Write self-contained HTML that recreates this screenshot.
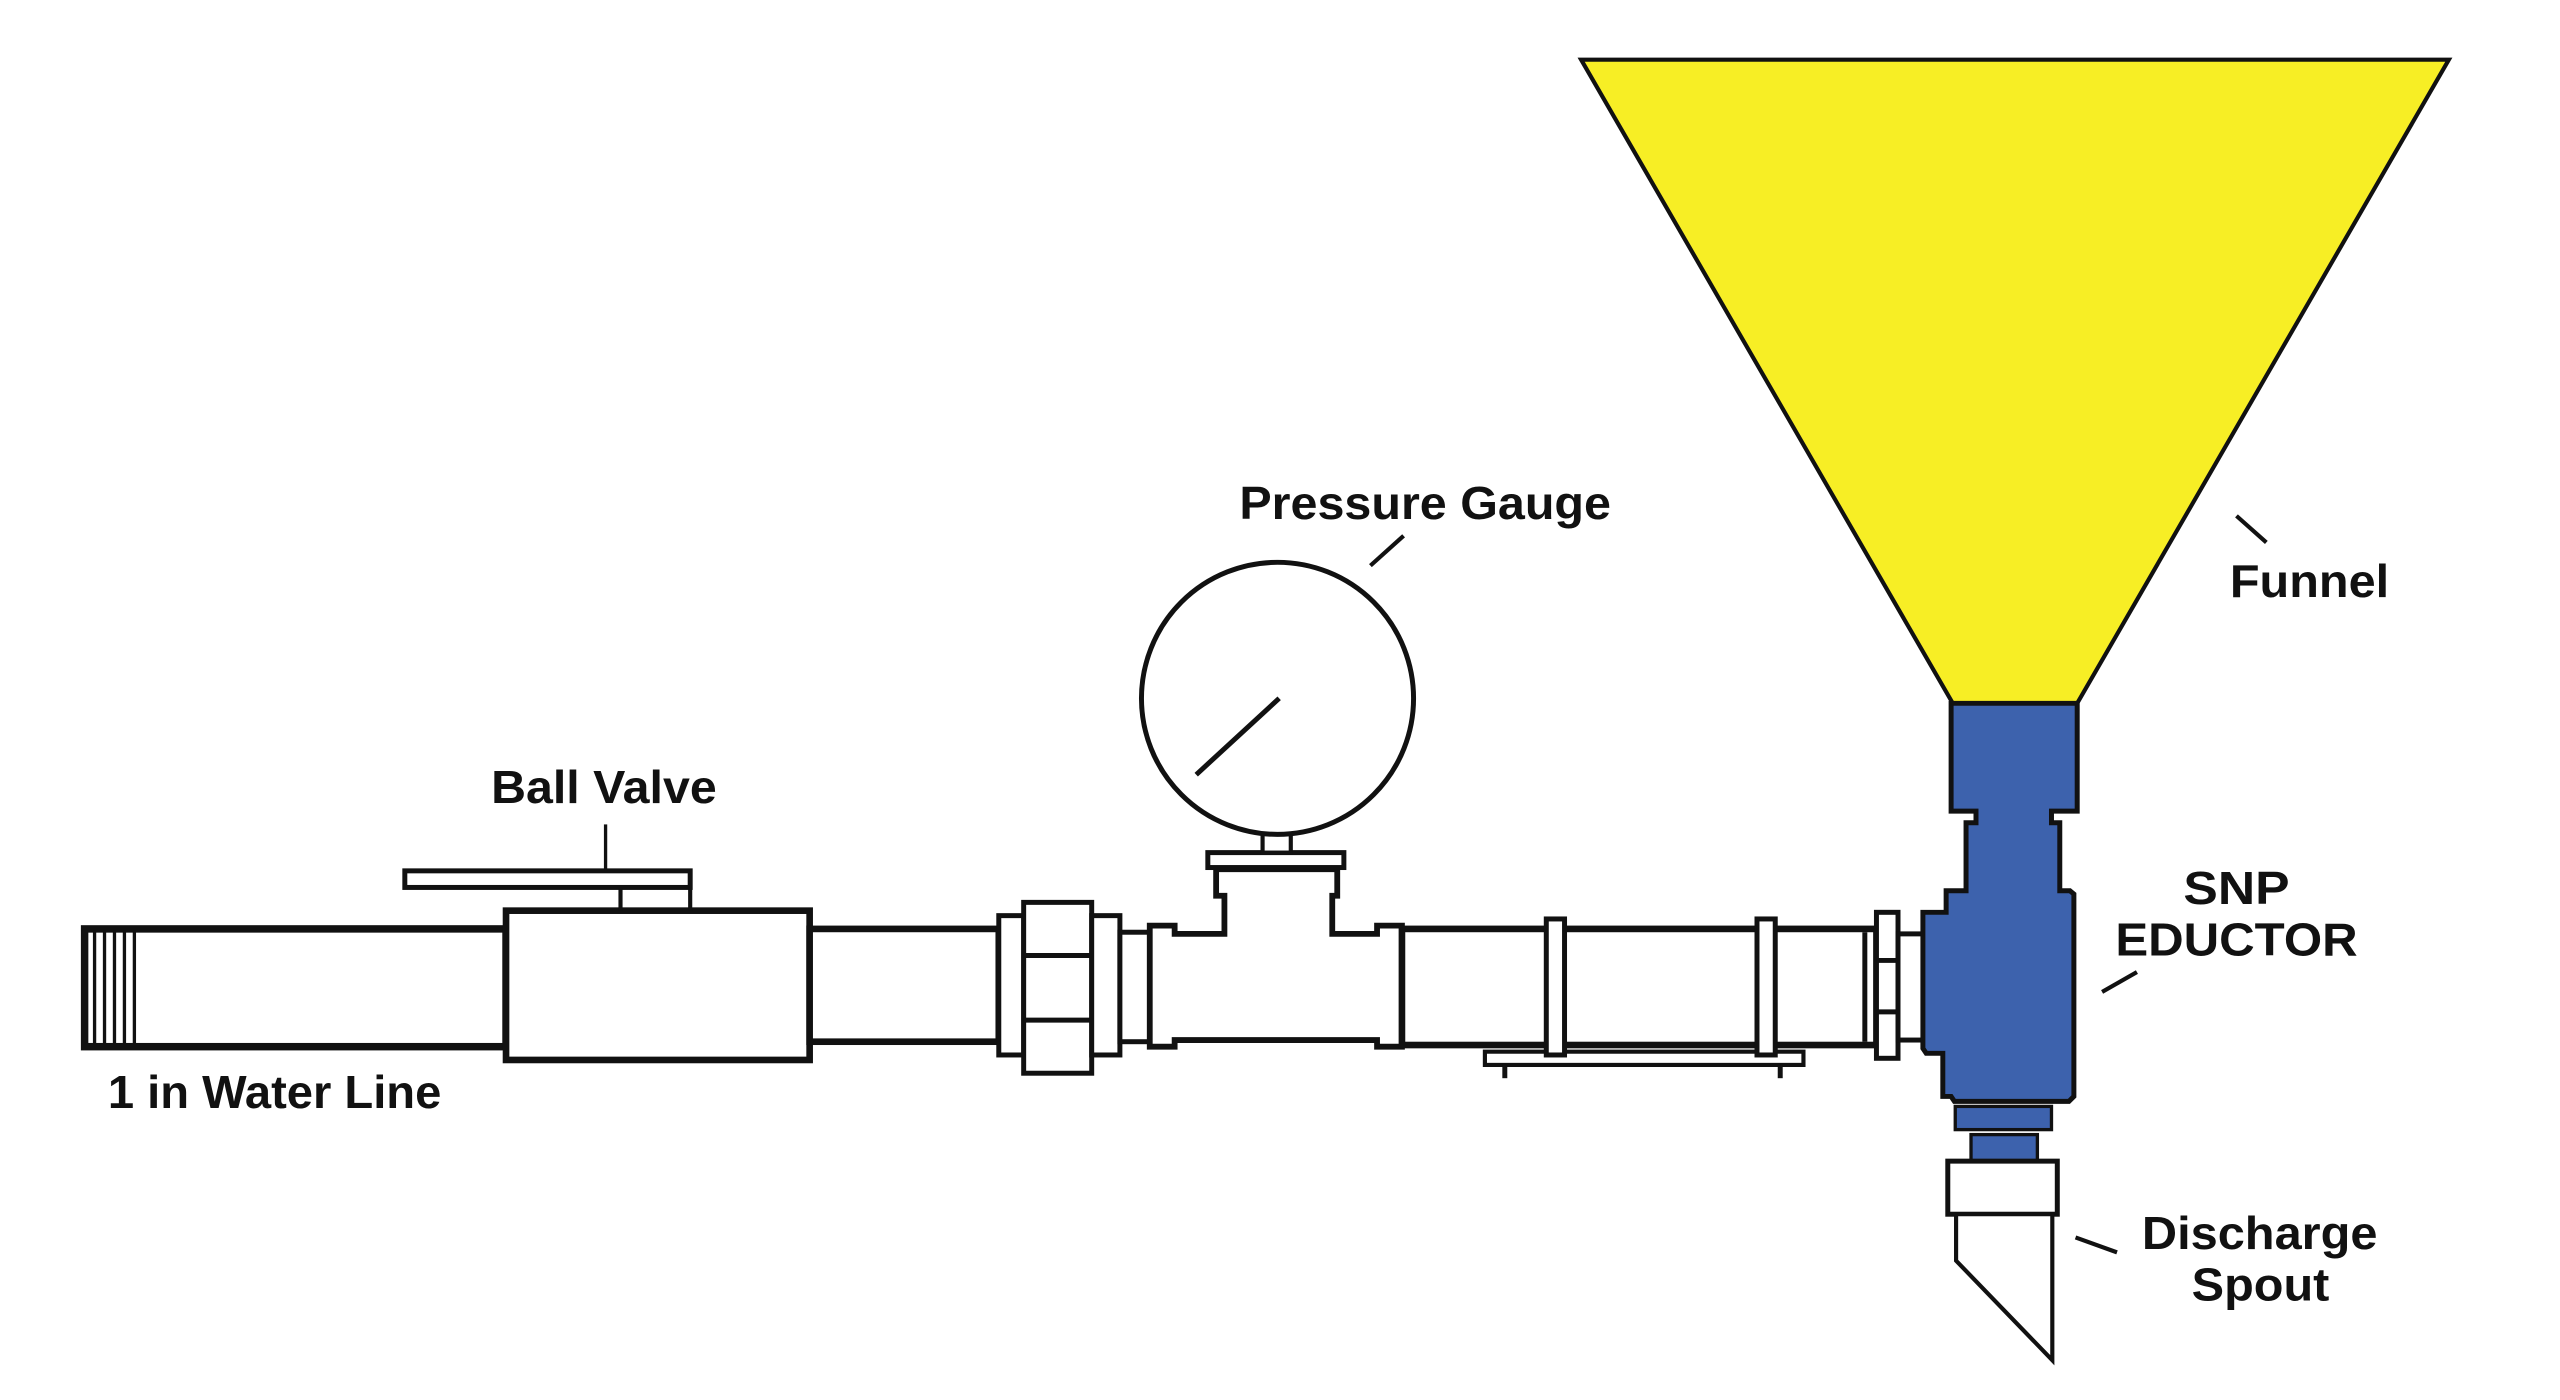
<!DOCTYPE html>
<html><head><meta charset="utf-8"><style>
html,body{margin:0;padding:0;background:#fff;}
svg{display:block;}
text{font-family:"Liberation Sans",sans-serif;font-weight:bold;fill:#111;}
</style></head><body>
<svg width="2560" height="1400" viewBox="0 0 1543 844" preserveAspectRatio="none" xmlns="http://www.w3.org/2000/svg">
<rect width="1543" height="844" fill="#fff"/>
<!-- Funnel -->
<polygon points="953,36 1476,36 1252,424 1177,424" fill="#F7EE25" stroke="#111" stroke-width="2.5" stroke-linejoin="miter"/>
<line x1="1348" y1="311" x2="1366" y2="327" stroke="#111" stroke-width="2.5"/>

<!-- Water line -->
<g fill="none" stroke="#111">
<rect x="51" y="560" width="254" height="71" fill="#fff" stroke-width="4.5"/>
<line x1="57" y1="562" x2="57" y2="629" stroke-width="2"/>
<line x1="63" y1="562" x2="63" y2="629" stroke-width="2"/>
<line x1="69" y1="562" x2="69" y2="629" stroke-width="2"/>
<line x1="75" y1="562" x2="75" y2="629" stroke-width="2"/>
<line x1="81" y1="562" x2="81" y2="629" stroke-width="2"/>
<!-- ball valve -->
<rect x="305" y="549" width="183" height="90" fill="#fff" stroke-width="4"/>
<rect x="244" y="525" width="172" height="10" fill="#fff" stroke-width="3"/>
<line x1="374" y1="535" x2="374" y2="549" stroke-width="2.5"/>
<line x1="416" y1="535" x2="416" y2="549" stroke-width="2.5"/>
<line x1="365" y1="497" x2="365" y2="525" stroke-width="2"/>
<!-- pipe -->
<rect x="488" y="560" width="114" height="68" fill="#fff" stroke-width="4"/>
<!-- union -->
<rect x="602" y="552" width="15" height="84" fill="#fff" stroke-width="3"/>
<rect x="617" y="544" width="41" height="103" fill="#fff" stroke-width="3"/>
<line x1="617" y1="576" x2="658" y2="576" stroke-width="3"/>
<line x1="617" y1="615" x2="658" y2="615" stroke-width="3"/>
<rect x="658" y="552" width="17" height="84" fill="#fff" stroke-width="3"/>
<rect x="675" y="562" width="18" height="66" fill="#fff" stroke-width="3"/>
<!-- tee -->
<polygon points="693,558 708,558 708,563 738,563 738,540 733,540 733,524 806,524 806,540 803,540 803,563 830,563 830,558 845,558 845,631 830,631 830,627 708,627 708,631 693,631" fill="#fff" stroke-width="3.5"/>
<rect x="728" y="514" width="82" height="9" fill="#fff" stroke-width="3"/>
<rect x="761" y="501" width="17" height="13" fill="#fff" stroke-width="2.5"/>
<circle cx="770" cy="421" r="82" fill="#fff" stroke-width="3"/>
<line x1="721" y1="467" x2="771" y2="421" stroke-width="3"/>
<line x1="826" y1="341" x2="846" y2="323" stroke-width="2.5"/>
<!-- long pipe -->
<rect x="845" y="560" width="286" height="70" fill="#fff" stroke-width="4"/>
<line x1="1124" y1="562" x2="1124" y2="628" stroke-width="3"/>
<rect x="895" y="634" width="192" height="8" fill="#fff" stroke-width="2.5"/>
<line x1="907" y1="642" x2="907" y2="650" stroke-width="3"/>
<line x1="1073" y1="642" x2="1073" y2="650" stroke-width="3"/>
<rect x="932" y="554" width="11" height="82" fill="#fff" stroke-width="3"/>
<rect x="1059" y="554" width="11" height="82" fill="#fff" stroke-width="3"/>
<rect x="1131" y="550" width="13" height="88" fill="#fff" stroke-width="3"/>
<line x1="1131" y1="579" x2="1144" y2="579" stroke-width="3"/>
<line x1="1131" y1="610" x2="1144" y2="610" stroke-width="3"/>
<rect x="1144" y="563" width="16" height="64" fill="#fff" stroke-width="3"/>
</g>

<!-- Eductor -->
<polygon points="1176,424 1252,424 1252,489 1236.5,489 1236.5,496 1241.5,496 1241.5,537 1247.6,537 1250,539 1250,661 1247,664 1178,664 1176,661 1171,661 1171,635 1161,635 1159,632 1159,550 1173,550 1173,537 1185,537 1185,496 1191,496 1191,489 1176,489" fill="#3D62AD" stroke="#111" stroke-width="3"/>
<rect x="1178.5" y="667" width="58" height="14" fill="#3D62AD" stroke="#111" stroke-width="2"/>
<rect x="1188" y="684" width="40" height="16" fill="#3D62AD" stroke="#111" stroke-width="2"/>
<rect x="1174" y="700" width="66" height="32" fill="#fff" stroke="#111" stroke-width="3"/>
<polygon points="1179,732 1179,760 1237,820 1237,732" fill="#fff" stroke="#111" stroke-width="2.5"/>
<line x1="1267" y1="598" x2="1288" y2="586" stroke="#111" stroke-width="2.5"/>
<line x1="1251" y1="746" x2="1276" y2="755" stroke="#111" stroke-width="2.5"/>

<!-- Labels -->
<text x="296" y="484" font-size="28" textLength="136" lengthAdjust="spacingAndGlyphs">Ball Valve</text>
<text x="65" y="668" font-size="28" textLength="201" lengthAdjust="spacingAndGlyphs">1 in Water Line</text>
<text x="747" y="313" font-size="28" textLength="224" lengthAdjust="spacingAndGlyphs">Pressure Gauge</text>
<text x="1344" y="360" font-size="28" textLength="96" lengthAdjust="spacingAndGlyphs">Funnel</text>
<text x="1316" y="545" font-size="28" textLength="64" lengthAdjust="spacingAndGlyphs">SNP</text>
<text x="1275" y="576" font-size="28" textLength="146" lengthAdjust="spacingAndGlyphs">EDUCTOR</text>
<text x="1291" y="753" font-size="28" textLength="142" lengthAdjust="spacingAndGlyphs">Discharge</text>
<text x="1321" y="784" font-size="28" textLength="83" lengthAdjust="spacingAndGlyphs">Spout</text>
</svg>
</body></html>
